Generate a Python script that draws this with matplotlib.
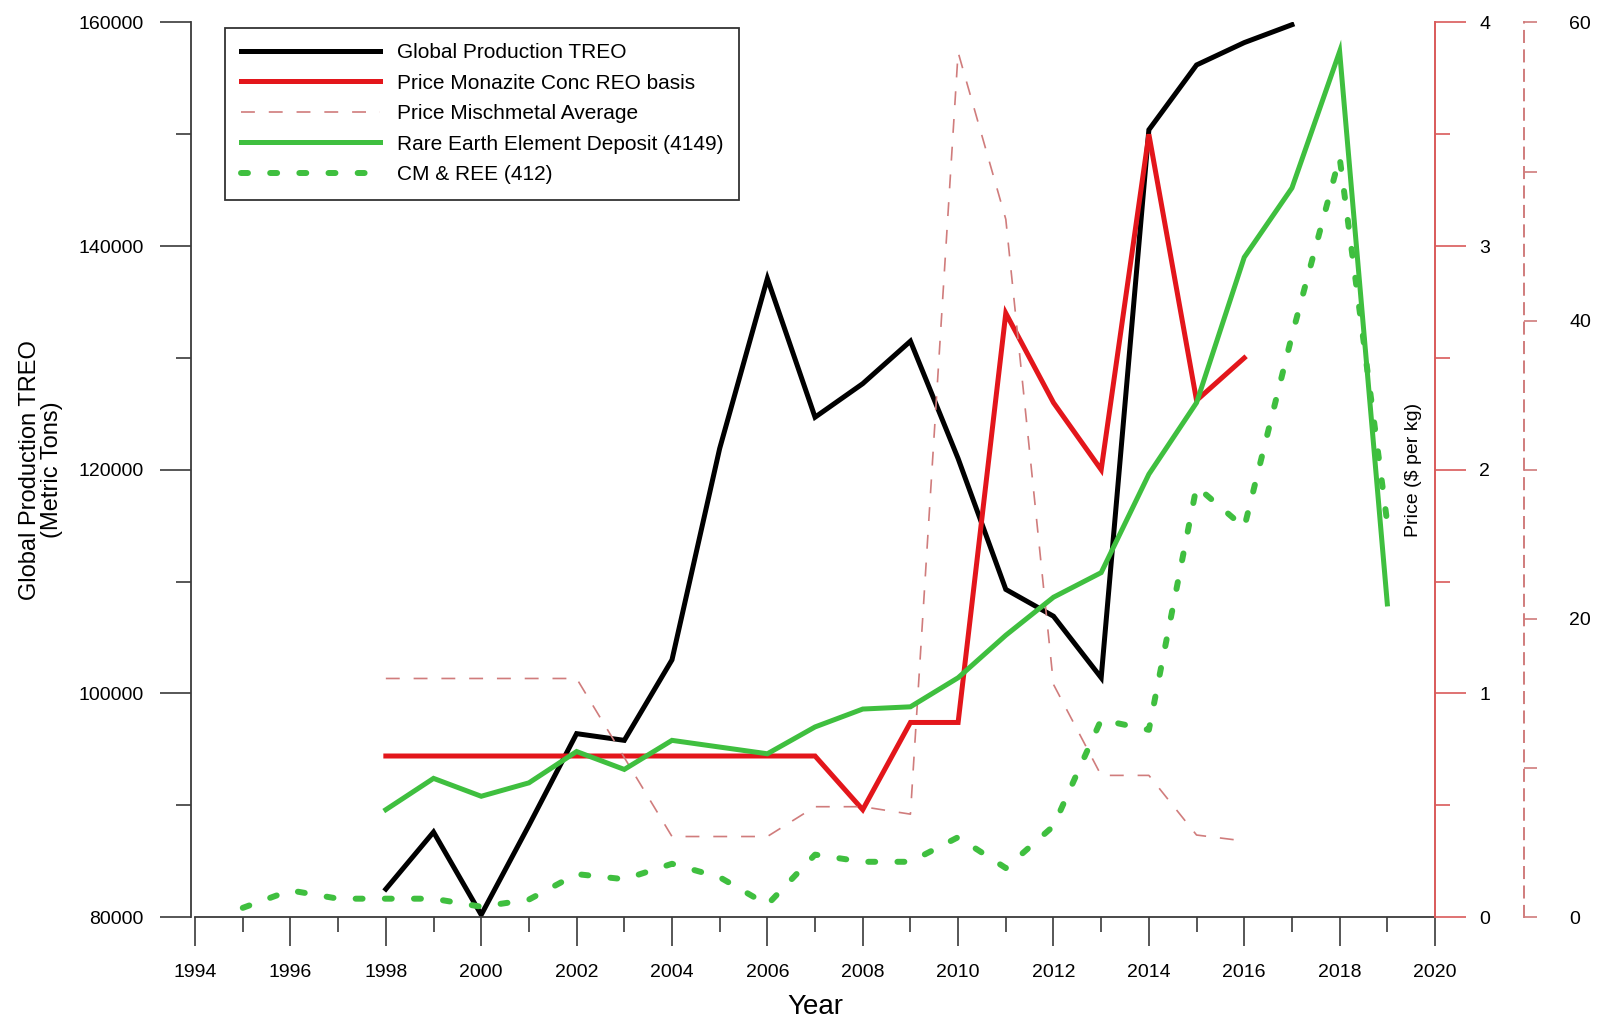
import numpy as np
import matplotlib
matplotlib.use("Agg")
import matplotlib.pyplot as plt
from matplotlib.ticker import MultipleLocator

plt.rcParams['font.family'] = ['Liberation Sans', 'DejaVu Sans']
plt.rcParams['lines.scale_dashes'] = False

# global production of total rare earth oxides (metric tons)
years_prod = np.arange(1998, 2018)
prod_treo = [82500, 87600, 80200, 88200, 96400, 95800, 103000, 121900, 137100, 124700,
             127700, 131500, 121000, 109300, 106900, 101400, 150400, 156200, 158200, 159800]

# prices ($ per kg)
years_price = np.arange(1998, 2017)
price_monazite = [0.72, 0.72, 0.72, 0.72, 0.72, 0.72, 0.72, 0.72, 0.72, 0.72,
                  0.48, 0.87, 0.87, 2.70, 2.30, 2.00, 3.50, 2.31, 2.50]
price_misch = [16.0, 16.0, 16.0, 16.0, 16.0, 10.7, 5.4, 5.4, 5.4, 7.4,
               7.4, 6.9, 58.0, 46.8, 15.6, 9.5, 9.5, 5.5, 5.1]

# deposit records per year
years_dep = np.arange(1998, 2020)
deposits_ree = [48, 62, 54, 60, 74, 66, 79, 76, 73, 85, 93, 94, 107, 126, 143, 154,
                198, 230, 295, 326, 387, 140]
years_cm = np.arange(1995, 2020)
cm_ree = [0.41, 1.19, 0.82, 0.82, 0.82, 0.46, 0.78, 1.92, 1.69, 2.38, 1.78, 0.55, 2.79,
          2.47, 2.47, 3.57, 2.19, 4.07, 8.82, 8.37, 19.25, 17.42, 26.0, 33.97, 17.6]

labels = ["Global Production TREO", "Price Monazite Conc REO basis", "Price Mischmetal Average",
          "Rare Earth Element Deposit (4149)", "CM & REE (412)"]

c_black = "#000000"
c_red = "#e3161b"
c_red_light = "#d07c7c"
c_green = "#3fbf3f"
c_axis = "#3a3a3a"
velPisma = 14

fig = plt.figure(figsize=(16.03, 10.17), dpi=100)
ax = fig.add_axes([0.1217, 0.0983, 0.7735, 0.8796])

# main axis - production
l_prod, = ax.plot(years_prod, prod_treo, color=c_black, lw=3.6, solid_joinstyle='miter')
ax.set_xlim(1994, 2020)
ax.set_ylim(80000, 160000)
ax.xaxis.set_major_locator(MultipleLocator(2))
ax.xaxis.set_minor_locator(MultipleLocator(1))
ax.yaxis.set_major_locator(MultipleLocator(20000))
ax.yaxis.set_minor_locator(MultipleLocator(10000))
ax.tick_params(axis='x', which='major', length=21, width=1.2, pad=13, labelsize=velPisma, color=c_axis)
ax.tick_params(axis='x', which='minor', length=11, width=1.2, color=c_axis)
ax.tick_params(axis='y', which='major', length=22, width=1.2, pad=12, labelsize=velPisma, color=c_axis)
ax.tick_params(axis='y', which='minor', length=11, width=1.2, color=c_axis)
for s in ['top', 'right']:
    ax.spines[s].set_visible(False)
ax.spines['left'].set_position(('outward', 3))
ax.spines['left'].set_color(c_axis)
ax.spines['bottom'].set_color(c_axis)
ax.spines['left'].set_linewidth(1.3)
ax.spines['bottom'].set_linewidth(1.3)
ax.set_ylabel("Global Production TREO\n(Metric Tons)", fontsize=17, linespacing=1.0)
ax.yaxis.set_label_coords(-0.1065, 0.5)
ax.set_xlabel("Year", fontsize=20, labelpad=9)

# monazite price axis
ax_price = ax.twinx()
l_mon, = ax_price.plot(years_price, price_monazite, color=c_red, lw=3.6, solid_joinstyle='miter')
ax_price.set_ylim(0, 4)
ax_price.yaxis.set_major_locator(MultipleLocator(1))
ax_price.yaxis.set_minor_locator(MultipleLocator(0.5))
ax_price.tick_params(axis='y', which='major', length=22, width=1.2, pad=10, labelsize=velPisma, color='#d95a5a')
ax_price.tick_params(axis='y', which='minor', length=11, width=1.2, color='#d95a5a')
for s in ['top', 'left', 'bottom']:
    ax_price.spines[s].set_visible(False)
ax_price.spines['right'].set_color('#d95a5a')
ax_price.spines['right'].set_linewidth(1.4)
ax_price.text(0.983, 0.5, r"Price (\$ per kg)", transform=ax_price.transAxes, rotation=90,
              ha='center', va='center', fontsize=velPisma)

# mischmetal price axis
ax_misch = ax.twinx()
l_misch, = ax_misch.plot(years_price, price_misch, color=c_red_light, lw=1.2, dashes=(10, 10))
ax_misch.set_ylim(0, 60)
ax_misch.yaxis.set_major_locator(MultipleLocator(20))
ax_misch.yaxis.set_minor_locator(MultipleLocator(10))
ax_misch.tick_params(axis='y', which='both', length=9.5, width=1.2, pad=23, labelsize=velPisma, color=c_red_light)
for s in ['top', 'left', 'bottom']:
    ax_misch.spines[s].set_visible(False)
ax_misch.spines['right'].set_position(('outward', 64))
ax_misch.spines['right'].set_color(c_red_light)
ax_misch.spines['right'].set_linewidth(1.4)
ax_misch.spines['right'].set_linestyle((0, (8, 6)))

# deposit counts, own hidden scales
ax_dep = ax.twinx()
l_dep, = ax_dep.plot(years_dep, deposits_ree, color=c_green, lw=3.6, solid_joinstyle='miter')
ax_dep.set_ylim(0, 400)
ax_dep.set_axis_off()

ax_cm = ax.twinx()
l_cm, = ax_cm.plot(years_cm, cm_ree, color=c_green, lw=4.3, dashes=(5, 16),
                   dash_capstyle='round')
ax_cm.set_ylim(0, 40)
ax_cm.set_axis_off()

leg = ax_cm.legend([l_prod, l_mon, l_misch, l_dep, l_cm], labels, loc='upper left',
                   bbox_to_anchor=(225 / 1603, 1 - 27.6 / 1017), bbox_transform=fig.transFigure,
                   fontsize=15, frameon=True, fancybox=False, framealpha=1,
                   edgecolor='#333333', handlelength=6.7, handletextpad=0.79,
                   labelspacing=0.55, borderpad=0.75, borderaxespad=0)
leg.get_frame().set_linewidth(1.3)

fig.savefig("out.png", dpi=100)
